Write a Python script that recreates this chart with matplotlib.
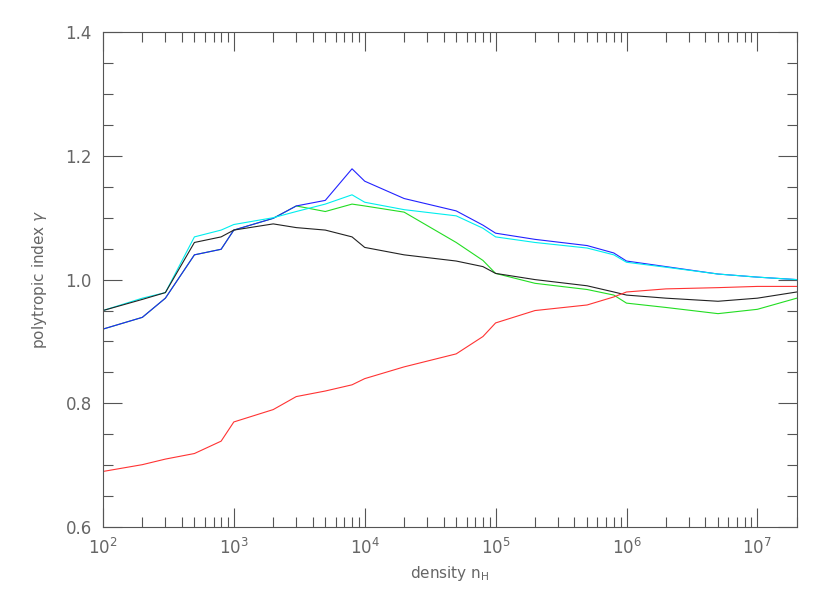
import matplotlib
matplotlib.use('Agg')
import matplotlib.pyplot as plt
import numpy as np
from matplotlib.ticker import LogLocator, FixedLocator, MultipleLocator, NullFormatter

# density grid (n_H)
density = [1e2, 2e2, 3e2, 5e2, 8e2, 1e3, 2e3, 3e3, 5e3, 8e3, 1e4, 2e4, 5e4, 8e4,
           1e5, 2e5, 5e5, 8e5, 1e6, 2e6, 5e6, 1e7, 2e7]

gamma_black = [0.950, 0.968, 0.979, 1.060, 1.069, 1.080, 1.090, 1.084, 1.080, 1.069, 1.052,
               1.040, 1.030, 1.021, 1.010, 1.000, 0.990, 0.980, 0.975, 0.970, 0.965, 0.970, 0.980]
gamma_blue = [0.920, 0.939, 0.970, 1.040, 1.049, 1.080, 1.099, 1.119, 1.128, 1.179, 1.159,
              1.131, 1.111, 1.088, 1.075, 1.065, 1.055, 1.043, 1.030, 1.021, 1.009, 1.004, 1.000]
gamma_cyan = [0.950, 0.970, 0.979, 1.069, 1.080, 1.089, 1.100, 1.110, 1.122, 1.137, 1.125,
              1.113, 1.103, 1.083, 1.069, 1.060, 1.051, 1.040, 1.028, 1.020, 1.009, 1.004, 1.000]
gamma_green = [0.920, 0.939, 0.970, 1.040, 1.049, 1.080, 1.099, 1.119, 1.110, 1.122, 1.119,
               1.109, 1.060, 1.031, 1.010, 0.994, 0.984, 0.975, 0.962, 0.955, 0.945, 0.952, 0.970]
gamma_red = [0.690, 0.701, 0.710, 0.719, 0.739, 0.770, 0.790, 0.811, 0.820, 0.830, 0.840,
             0.859, 0.880, 0.908, 0.930, 0.950, 0.959, 0.972, 0.980, 0.985, 0.987, 0.989, 0.989]

axis_grey = '#555555'
text_grey = '#666666'

fig = plt.figure(figsize=(8.30, 5.93), dpi=100)
ax = fig.add_axes([0.124, 0.111, 0.836, 0.835])

ax.plot(density, gamma_green, color='#22dd22', lw=0.8)
ax.plot(density, gamma_blue, color='#2222ff', lw=0.8)
ax.plot(density, gamma_cyan, color='#00eeee', lw=0.8)
ax.plot(density, gamma_black, color='#222222', lw=0.8)
ax.plot(density, gamma_red, color='#ff3333', lw=0.8)

ax.set_xscale('log')
ax.set_xlim(1e2, 2e7)
ax.set_ylim(0.6, 1.4)

ax.xaxis.set_major_locator(LogLocator(base=10, numticks=20))
ax.xaxis.set_minor_locator(LogLocator(base=10, subs=np.arange(2, 10), numticks=20))
ax.xaxis.set_minor_formatter(NullFormatter())
ax.yaxis.set_major_locator(FixedLocator([0.6, 0.8, 1.0, 1.2, 1.4]))
ax.yaxis.set_major_formatter(plt.FuncFormatter(lambda v, p: '%.1f' % v))
ax.yaxis.set_minor_locator(MultipleLocator(0.05))

ax.tick_params(which='both', direction='in', top=True, right=True,
               colors=axis_grey, labelcolor=text_grey, width=0.8)
ax.tick_params(which='major', length=14, labelsize=12, pad=8)
ax.tick_params(which='minor', length=7)
for s in ax.spines.values():
    s.set_color(axis_grey)
    s.set_linewidth(0.8)

ax.set_xlabel(r'density n$_{\rm H}$', color=text_grey, fontsize=11, labelpad=4)
ax.set_ylabel(r'polytropic index $\gamma$', color=text_grey, fontsize=11, labelpad=12)

fig.savefig('out.png', dpi=100)
